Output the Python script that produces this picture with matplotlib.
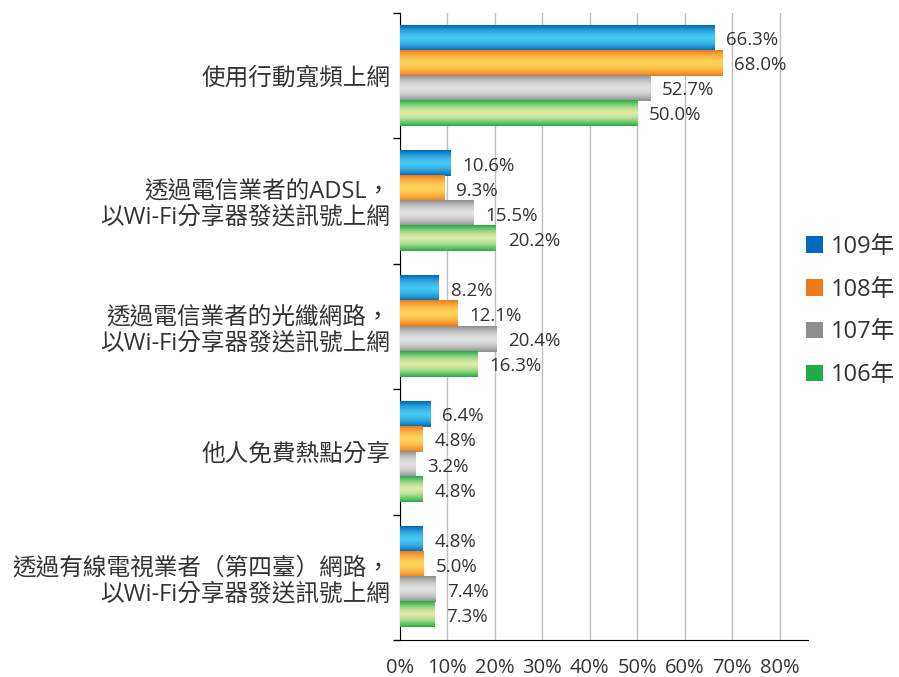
import numpy as np
import matplotlib
matplotlib.use("Agg")
import matplotlib.pyplot as plt
from matplotlib.colors import LinearSegmentedColormap
from matplotlib.patches import Patch


categories = [
    "使用行動寬頻上網",
    "透過電信業者的ADSL，\n以Wi-Fi分享器發送訊號上網",
    "透過電信業者的光纖網路，\n以Wi-Fi分享器發送訊號上網",
    "他人免費熱點分享",
    "透過有線電視業者（第四臺）網路，\n以Wi-Fi分享器發送訊號上網",
]
series_names = ["109年", "108年", "107年", "106年"]
values_109 = [66.3, 10.6, 8.2, 6.4, 4.8]
values_108 = [68.0, 9.3, 12.1, 4.8, 5.0]
values_107 = [52.7, 15.5, 20.4, 3.2, 7.4]
values_106 = [50.0, 20.2, 16.3, 4.8, 7.3]
x_ticks = [0, 10, 20, 30, 40, 50, 60, 70, 80]

# (edge colour, middle colour) for the shiny gradient bars
bar_colors = [
    ("#0068B8", "#45C8F2"),
    ("#F07A1A", "#FFD45A"),
    ("#8E8E8E", "#E2E2E2"),
    ("#1FAE45", "#DDEBA5"),
]

plt.rcParams["font.family"] = ["Open Sans", "Noto Sans CJK TC", "DejaVu Sans"]
TEXT = "#333333"

fig = plt.figure(figsize=(8.99, 6.77), dpi=100)
ax = fig.add_axes([400 / 899, 1 - 640 / 677, 408 / 899, 627 / 677])

all_values = [values_109, values_108, values_107, values_106]
n_cat = len(categories)
bar_h = 0.2
grad = np.abs(np.linspace(-1, 1, 64))[:, None]

for s, vals in enumerate(all_values):
    edge, mid = bar_colors[s]
    cmap = LinearSegmentedColormap.from_list("g%d" % s, [mid, edge])
    for i, v in enumerate(vals):
        yc = i - 0.3 + s * bar_h
        y0, y1 = yc - bar_h / 2, yc + bar_h / 2
        ax.imshow(grad ** 1.6, cmap=cmap, aspect="auto", extent=(0, v, y1, y0),
                  vmin=0, vmax=1, zorder=3, interpolation="bilinear")
        ax.annotate(f"{v:.1f}%", xy=(v, yc), xytext=(8.5, -1.5), textcoords="offset points",
                    va="center", ha="left", fontsize=13.5, color=TEXT, zorder=4)

ax.set_xlim(0, 86)
ax.set_ylim(n_cat - 0.5, -0.5)

ax.set_xticks(x_ticks)
ax.set_xticklabels([f"{t}%" for t in x_ticks])
ax.tick_params(axis="x", length=0, pad=13, labelsize=14.5, labelcolor=TEXT)
ax.grid(axis="x", color="#BFBFBF", linewidth=1, zorder=0)
ax.set_axisbelow(True)

ax.set_yticks(range(n_cat))
ax.set_yticklabels(categories, fontsize=17, color=TEXT, multialignment="right",
                   linespacing=1.1)
ax.set_yticks(np.arange(-0.5, n_cat, 1), minor=True)
ax.tick_params(axis="y", which="major", length=0, pad=7)
ax.tick_params(axis="y", which="minor", length=5, width=1, direction="out")

for side in ["top", "right"]:
    ax.spines[side].set_visible(False)
ax.spines["left"].set_color("black")
ax.spines["bottom"].set_color("black")

handles = [Patch(facecolor=c[0]) for c in bar_colors]
fig.legend(handles, series_names, loc="center left", bbox_to_anchor=(806 / 899, 1 - 311 / 677),
           frameon=False, fontsize=17, handlelength=0.7, handleheight=0.7,
           labelspacing=0.8, handletextpad=0.35, borderpad=0, borderaxespad=0,
           labelcolor=TEXT)

fig.savefig("out.png", dpi=100)
